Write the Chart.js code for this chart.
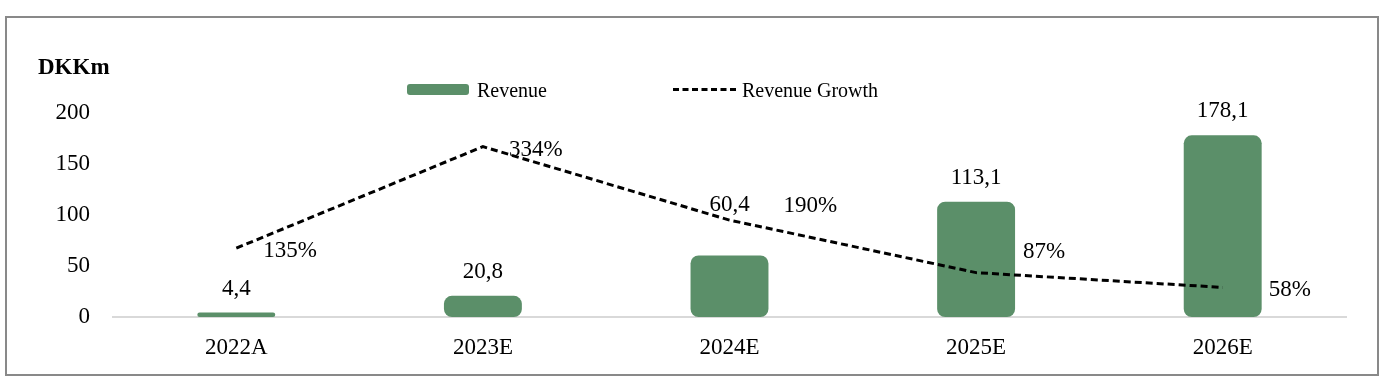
<!DOCTYPE html>
<html>
<head>
<meta charset="utf-8">
<script src="https://cdn.jsdelivr.net/npm/chart.js@4/dist/chart.umd.min.js"></script>
<style>
  html, body { margin: 0; padding: 0; background: #fff; }
  #wrap { position: absolute; left: 0; top: 0; width: 1390px; height: 388px; }
  #frame { position: absolute; left: 5px; top: 16px; width: 1374px; height: 360px; box-sizing: border-box; border: 2px solid #898989; pointer-events: none; }
</style>
</head>
<body>
<div id="wrap"><canvas id="c" width="1390" height="388"></canvas></div>
<div id="frame"></div>
<script>
const categories = ['2022A', '2023E', '2024E', '2025E', '2026E'];
const revenue = [4.4, 20.8, 60.4, 113.1, 178.1];
const revenueGrowth = [135, 334, 190, 87, 58];
const yTicks = [0, 50, 100, 150, 200];
const unitLabel = 'DKKm';
const seriesNames = ['Revenue', 'Revenue Growth'];

const FONT = '"Liberation Serif", "Times New Roman", serif';
const GREEN = '#5B8F69';

function fmtDec(v) { return v.toFixed(1).replace('.', ','); }

const labelPlugin = {
  id: 'valueLabels',
  afterDatasetsDraw(chart) {
    const ctx = chart.ctx;
    ctx.save();
    ctx.font = '23px ' + FONT;
    ctx.fillStyle = '#000';
    ctx.textBaseline = 'alphabetic';
    const barGap = [18, 18, 44, 18, 18];
    const bars = chart.getDatasetMeta(1).data;
    bars.forEach((b, i) => {
      ctx.textAlign = 'center';
      ctx.fillText(fmtDec(revenue[i]), b.x, b.y - barGap[i]);
    });
    const dx = [27, 26, 54, 47, 46];
    const dy = [9, 9.5, -8.5, -15, 8.5];
    const pts = chart.getDatasetMeta(0).data;
    pts.forEach((p, i) => {
      ctx.textAlign = 'left';
      ctx.fillText(revenueGrowth[i] + '%', p.x + dx[i], p.y + dy[i]);
    });
    ctx.restore();
  }
};

const legendPlugin = {
  id: 'customLegend',
  afterDraw(chart) {
    const ctx = chart.ctx;
    ctx.save();
    ctx.fillStyle = '#000';
    ctx.textBaseline = 'alphabetic';
    ctx.textAlign = 'left';
    ctx.font = 'bold 23px ' + FONT;
    ctx.fillText(unitLabel, 38, 73.5);
    ctx.fillStyle = GREEN;
    ctx.beginPath();
    ctx.roundRect(407, 84, 62, 11, 3);
    ctx.fill();
    ctx.strokeStyle = '#000';
    ctx.lineWidth = 2.8;
    ctx.setLineDash([6, 3.5]);
    ctx.beginPath();
    ctx.moveTo(673, 89.5);
    ctx.lineTo(736, 89.5);
    ctx.stroke();
    ctx.setLineDash([]);
    ctx.fillStyle = '#000';
    ctx.font = '20px ' + FONT;
    ctx.fillText(seriesNames[0], 477, 97);
    ctx.fillText(seriesNames[1], 742, 97);
    ctx.restore();
  }
};

new Chart(document.getElementById('c'), {
  data: {
    labels: categories,
    datasets: [
      {
        type: 'line',
        label: seriesNames[1],
        data: revenueGrowth,
        yAxisID: 'y1',
        borderColor: '#000',
        borderWidth: 3,
        borderDash: [7, 4],
        pointRadius: 0,
        tension: 0,
        fill: false,
        order: 0
      },
      {
        type: 'bar',
        label: seriesNames[0],
        data: revenue,
        yAxisID: 'y',
        backgroundColor: GREEN,
        borderRadius: 8,
        borderSkipped: false,
        barPercentage: 0.316,
        categoryPercentage: 1,
        order: 1
      }
    ]
  },
  options: {
    responsive: false,
    animation: false,
    events: [],
    layout: { padding: { left: 0, right: 44, top: 113, bottom: 0 } },
    plugins: { legend: { display: false }, tooltip: { enabled: false }, title: { display: false } },
    scales: {
      x: {
        grid: { display: false },
        border: { display: true, color: '#d9d9d9', width: 2 },
        ticks: { color: '#000', font: { family: FONT, size: 23 }, padding: 9, maxRotation: 0 },
        afterFit(s) { s.height = 71; }
      },
      y: {
        position: 'left',
        min: 0, max: 200,
        afterBuildTicks(s) { s.ticks = yTicks.map(v => ({ value: v })); },
        grid: { display: false },
        border: { display: false },
        ticks: { color: '#000', font: { family: FONT, size: 23 }, padding: 15 },
        afterFit(s) { s.width = 113; }
      },
      y1: {
        position: 'right',
        display: false,
        min: 0, max: 400
      }
    }
  },
  plugins: [labelPlugin, legendPlugin]
});
</script>
</body>
</html>
